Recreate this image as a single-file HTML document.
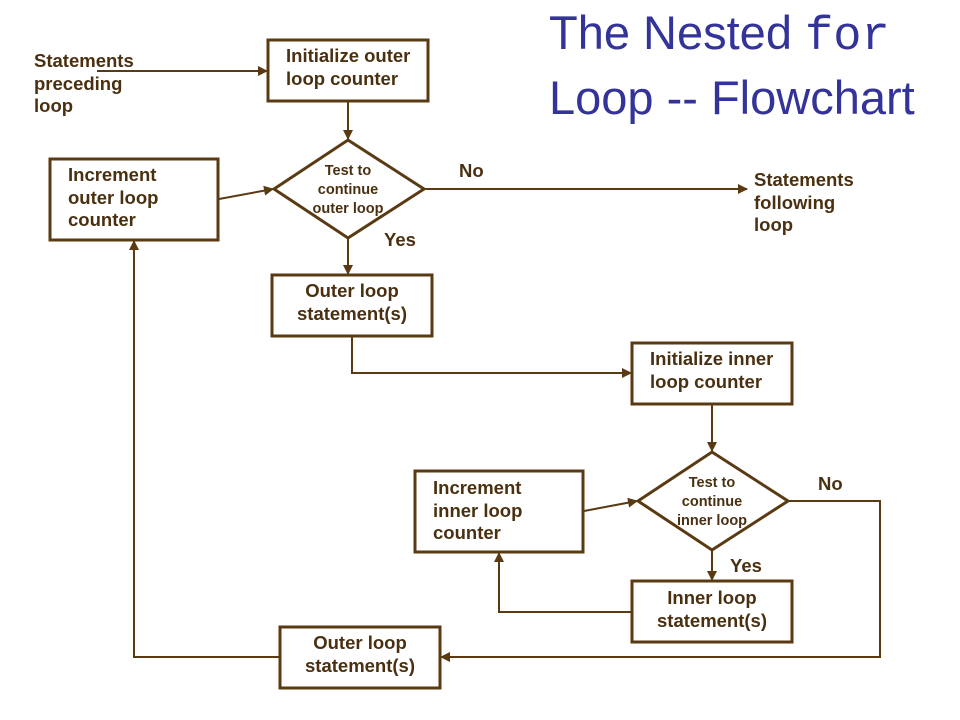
<!DOCTYPE html>
<html><head><style>
body{margin:0;background:#fff;}
svg{display:block;}
text{font-family:"Liberation Sans",Arial,sans-serif;font-weight:bold;fill:#4a3010;}
</style></head><body>
<svg width="960" height="720" viewBox="0 0 960 720">
<defs>
<marker id="a" markerWidth="10" markerHeight="10" refX="9" refY="5" orient="auto" markerUnits="userSpaceOnUse">
<path d="M0,0 L10,5 L0,10 z" fill="#5a3a12"/></marker>
</defs>
<g fill="none" stroke="#5a3a12" stroke-width="3">
<rect x="268" y="40" width="160" height="61"/>
<polygon points="274,189 348,140 424,189 348,238"/>
<rect x="50" y="159" width="168" height="81"/>
<rect x="272" y="275" width="160" height="61"/>
<rect x="632" y="343" width="160" height="61"/>
<polygon points="638,501 712,452 788,501 712,550"/>
<rect x="415" y="471" width="168" height="81"/>
<rect x="632" y="581" width="160" height="61"/>
<rect x="280" y="627" width="160" height="61"/>
</g>
<g fill="none" stroke="#5a3a12" stroke-width="2">
<line x1="97" y1="71" x2="267" y2="71" marker-end="url(#a)"/>
<line x1="348" y1="102" x2="348" y2="139" marker-end="url(#a)"/>
<line x1="219" y1="199" x2="273" y2="189" marker-end="url(#a)"/>
<line x1="425" y1="189" x2="747" y2="189" marker-end="url(#a)"/>
<line x1="348" y1="239" x2="348" y2="274" marker-end="url(#a)"/>
<polyline points="352,337 352,373 631,373" marker-end="url(#a)"/>
<line x1="712" y1="405" x2="712" y2="451" marker-end="url(#a)"/>
<line x1="584" y1="511" x2="637" y2="501" marker-end="url(#a)"/>
<line x1="712" y1="551" x2="712" y2="580" marker-end="url(#a)"/>
<polyline points="631,612 499,612 499,553" marker-end="url(#a)"/>
<polyline points="789,501 880,501 880,657 441,657" marker-end="url(#a)"/>
<polyline points="279,657 134,657 134,241" marker-end="url(#a)"/>
</g>
<g font-size="18.5">
<text x="34" y="67">Statements</text><text x="34" y="90">preceding</text><text x="34" y="112">loop</text>
<text x="286" y="62">Initialize outer</text><text x="286" y="85">loop counter</text>
<text x="68" y="181">Increment</text><text x="68" y="204">outer loop</text><text x="68" y="226">counter</text>
<text x="459" y="177">No</text><text x="384" y="246">Yes</text>
<text x="754" y="186">Statements</text><text x="754" y="209">following</text><text x="754" y="231">loop</text>
<text x="352" y="297" text-anchor="middle">Outer loop</text><text x="352" y="320" text-anchor="middle">statement(s)</text>
<text x="650" y="365">Initialize inner</text><text x="650" y="388">loop counter</text>
<text x="433" y="494">Increment</text><text x="433" y="517">inner loop</text><text x="433" y="539">counter</text>
<text x="818" y="490">No</text><text x="730" y="572">Yes</text>
<text x="712" y="604" text-anchor="middle">Inner loop</text><text x="712" y="627" text-anchor="middle">statement(s)</text>
<text x="360" y="649" text-anchor="middle">Outer loop</text><text x="360" y="672" text-anchor="middle">statement(s)</text>
</g>
<g font-size="14.5" text-anchor="middle">
<text x="348" y="175">Test to</text><text x="348" y="194">continue</text><text x="348" y="213">outer loop</text>
<text x="712" y="487">Test to</text><text x="712" y="506">continue</text><text x="712" y="525">inner loop</text>
</g>
<g font-size="47">
<text x="549" y="49" style="fill:#333399;font-weight:normal">The Nested <tspan style="font-family:'Liberation Mono',monospace">for</tspan></text>
<text x="549" y="114" style="fill:#333399;font-weight:normal">Loop -- Flowchart</text>
</g>
</svg>
</body></html>
